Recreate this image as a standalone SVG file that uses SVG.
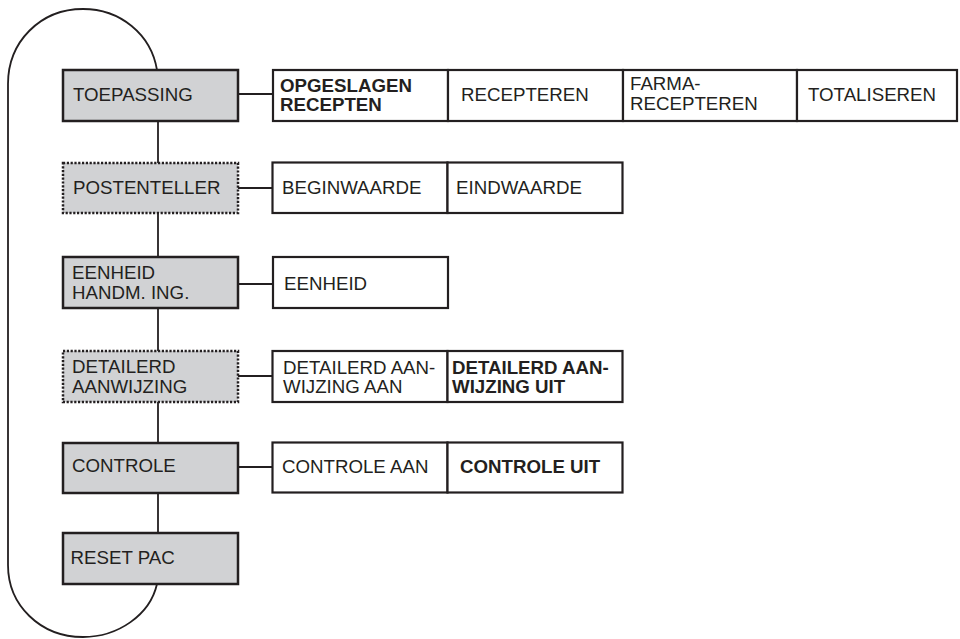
<svg xmlns="http://www.w3.org/2000/svg" width="960" height="639" viewBox="0 0 960 639">
<style>
.main{fill:#d1d2d4;stroke:#231f20;stroke-width:2.5}
.dot{stroke-dasharray:2.2 1.6}
.cell{fill:#fff;stroke:#231f20;stroke-width:2.2}
.con{stroke:#231f20;stroke-width:1.8;fill:none}
text{font-family:"Liberation Sans",Arial,Helvetica,sans-serif;font-size:18.7px;fill:#231f20}
.b{font-weight:bold}
</style>
<rect width="960" height="639" fill="#fff"/>
<g id="connectors">
<path class="con" d="M157,70 C151,34 120,9 83,9 C40,9 8,42 8,84 L8,565 C8,605 40,637 83,637 C118,637 150,615 157,584"/>
<line class="con" x1="158" y1="121" x2="158" y2="163"/>
<line class="con" x1="158" y1="213" x2="158" y2="257"/>
<line class="con" x1="158" y1="308" x2="158" y2="351"/>
<line class="con" x1="158" y1="402" x2="158" y2="443"/>
<line class="con" x1="158" y1="493" x2="158" y2="533"/>
<line class="con" x1="238" y1="94" x2="273" y2="94"/>
<line class="con" x1="238" y1="188" x2="272" y2="188"/>
<line class="con" x1="238" y1="284" x2="273" y2="284"/>
<line class="con" x1="238" y1="376" x2="272" y2="376"/>
<line class="con" x1="238" y1="467" x2="272" y2="467"/>
</g>
<g id="toepassing"><rect class="main" x="63" y="70" width="175" height="51"/><text x="73" y="101">TOEPASSING</text></g>
<g id="postenteller"><rect class="main dot" x="63" y="163" width="175" height="50"/><text x="73" y="194">POSTENTELLER</text></g>
<g id="eenheid-handm"><rect class="main" x="63" y="257" width="175" height="51"/><text x="72" y="279">EENHEID</text><text x="72" y="298.5">HANDM. ING.</text></g>
<g id="detailerd"><rect class="main dot" x="63" y="351" width="175" height="51"/><text x="72" y="373">DETAILERD</text><text x="72" y="392.5">AANWIJZING</text></g>
<g id="controle"><rect class="main" x="63" y="443" width="175" height="50"/><text x="72" y="472">CONTROLE</text></g>
<g id="reset-pac"><rect class="main" x="63" y="533" width="175" height="51"/><text x="70.5" y="563.5">RESET PAC</text></g>

<g id="opgeslagen-recepten"><rect class="cell" x="273" y="70" width="175" height="51"/><text class="b" x="280" y="92">OPGESLAGEN</text><text class="b" x="280" y="111">RECEPTEN</text></g>
<g id="recepteren"><rect class="cell" x="448" y="70" width="175" height="51"/><text x="461" y="101">RECEPTEREN</text></g>
<g id="farma-recepteren"><rect class="cell" x="623" y="70" width="174" height="51"/><text x="630" y="90">FARMA-</text><text x="630" y="109.5">RECEPTEREN</text></g>
<g id="totaliseren"><rect class="cell" x="797" y="70" width="160" height="51"/><text x="808" y="101">TOTALISEREN</text></g>

<g id="beginwaarde"><rect class="cell" x="272.5" y="162.5" width="175" height="50.5"/><text x="282" y="193.5">BEGINWAARDE</text></g>
<g id="eindwaarde"><rect class="cell" x="447.5" y="162.5" width="175" height="50.5"/><text x="456" y="193.5">EINDWAARDE</text></g>

<g id="eenheid"><rect class="cell" x="273" y="257" width="175" height="51"/><text x="284" y="290">EENHEID</text></g>

<g id="detailerd-aan"><rect class="cell" x="272.5" y="351" width="175" height="51"/><text x="283" y="373.5">DETAILERD AAN-</text><text x="283" y="393">WIJZING AAN</text></g>
<g id="detailerd-uit"><rect class="cell" x="447.5" y="351" width="175" height="51"/><text class="b" x="452" y="373.5">DETAILERD AAN-</text><text class="b" x="452" y="393">WIJZING UIT</text></g>

<g id="controle-aan"><rect class="cell" x="272.5" y="442.5" width="175" height="50"/><text x="282" y="473">CONTROLE AAN</text></g>
<g id="controle-uit"><rect class="cell" x="447.5" y="442.5" width="175" height="50"/><text class="b" x="460" y="473">CONTROLE UIT</text></g>
</svg>
